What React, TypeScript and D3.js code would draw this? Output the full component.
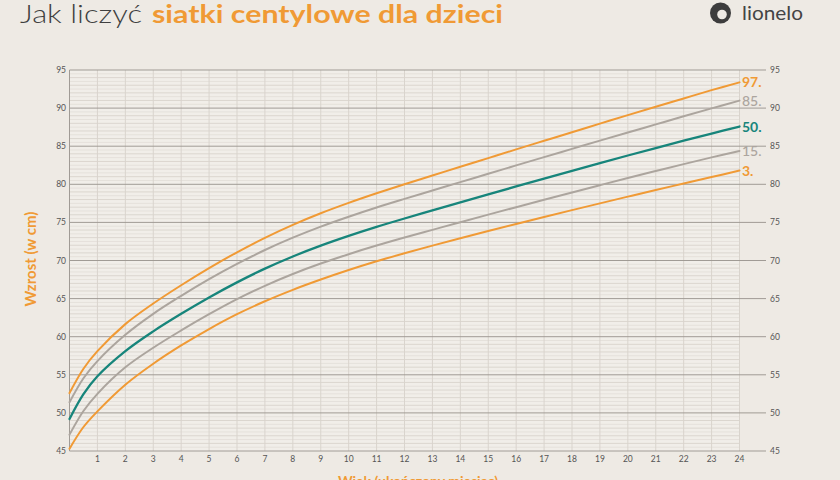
import React from "react";
import * as d3 from "d3";

const months = [0,0.5,1,2,3,4,5,6,7,8,9,10,11,12,13,14,15,16,17,18,19,20,21,22,23,24];
const p97 = [52.6,55.8,58.1,61.65,64.35,66.75,69.0,71.08,72.98,74.68,76.2,77.56,78.82,80.01,81.15,82.3,83.44,84.58,85.71,86.84,87.96,89.08,90.18,91.27,92.36,93.38];
const p85 = [51.4,54.55,56.8,60.25,63.0,65.36,67.55,69.55,71.38,73.0,74.45,75.75,76.96,78.09,79.19,80.29,81.38,82.48,83.57,84.65,85.73,86.8,87.86,88.92,89.96,90.98];
const p50 = [49.2,52.45,54.8,58.1,60.7,63.0,65.15,67.13,68.93,70.53,71.95,73.23,74.41,75.51,76.57,77.63,78.68,79.72,80.75,81.77,82.78,83.78,84.76,85.72,86.66,87.58];
const p15 = [47.15,50.25,52.5,55.98,58.55,60.82,62.95,64.93,66.68,68.23,69.6,70.83,71.96,73.01,74.02,75.03,76.02,77.0,77.97,78.93,79.88,80.82,81.74,82.65,83.53,84.38];
const p3 = [45.3,48.15,50.2,53.7,56.45,58.85,61.0,62.95,64.65,66.15,67.5,68.75,69.9,70.95,71.95,72.92,73.87,74.8,75.71,76.61,77.5,78.38,79.25,80.1,80.95,81.8];

const xTicks = [1,2,3,4,5,6,7,8,9,10,11,12,13,14,15,16,17,18,19,20,21,22,23,24];
const yTicks = [45,50,55,60,65,70,75,80,85,90,95];
const seriesNames = ["97.", "85.", "50.", "15.", "3."];

const ORANGE = "#f09a35";
const GRAY = "#aca59e";
const TEAL = "#17857b";

export default function App() {
  const W = 840, H = 480;
  const x = d3.scaleLinear().domain([0, 24]).range([69.5, 739.5]);
  const y = d3.scaleLinear().domain([45, 95]).range([451, 70]);
  const line = d3.line<number>().x((_, i) => x(months[i])).y(d => y(d)).curve(d3.curveCatmullRom.alpha(0.5));

  const series = [
    { name: seriesNames[0], data: p97, color: ORANGE, weight: 700, w: 2 },
    { name: seriesNames[1], data: p85, color: GRAY, weight: 500, w: 2 },
    { name: seriesNames[2], data: p50, color: TEAL, weight: 700, w: 2.3 },
    { name: seriesNames[3], data: p15, color: GRAY, weight: 500, w: 2 },
    { name: seriesNames[4], data: p3, color: ORANGE, weight: 700, w: 2 },
  ];

  const halfTicks = d3.range(45.5, 95, 0.5).filter(v => v % 5 !== 0);
  const font = "Lato, 'Open Sans', sans-serif";

  return (
    <svg width={W} height={H} style={{ position: "absolute", left: 0, top: 0, background: "#eeeae4" }} fontFamily={font}>
      <rect x={0} y={0} width={W} height={H} fill="#eeeae4" />
      <rect x={x(0)} y={y(95)} width={x(24) - x(0)} height={y(45) - y(95)} fill="#f1eee9" />
      {/* title */}
      <text x={20} y={23} fontSize={25} fontFamily="Lato, sans-serif">
        <tspan fill="#3f3f3f" fontWeight={300} textLength={122} lengthAdjust="spacingAndGlyphs">Jak liczyć</tspan>
        <tspan x={152} fill={ORANGE} fontWeight={700} textLength={351} lengthAdjust="spacingAndGlyphs">siatki centylowe dla dzieci</tspan>
      </text>
      {/* logo */}
      <circle cx={720.5} cy={13} r={10.5} fill="#3d3d3d" />
      <circle cx={722} cy={14.5} r={4.8} fill="#eeeae4" />
      <text x={742} y={20} fontSize={20} fontWeight={400} fill="#444" fontFamily="Lato, sans-serif" textLength={61} lengthAdjust="spacingAndGlyphs">lionelo</text>

      {/* minor grid */}
      {halfTicks.map(v => (
        <line key={"h" + v} x1={x(0)} x2={x(24)} y1={y(v)} y2={y(v)}
          stroke={Number.isInteger(v) ? "#dbd6cf" : "#e5e1db"} strokeWidth={1} />
      ))}
      {xTicks.map(m => (
        <line key={"v" + m} x1={x(m)} x2={x(m)} y1={y(95)} y2={y(45)} stroke="#d9d4cd" strokeWidth={1} />
      ))}
      {/* major grid */}
      {yTicks.map(v => (
        <line key={"M" + v} x1={x(0)} x2={766} y1={y(v)} y2={y(v)} stroke="#a09b95" strokeWidth={1} />
      ))}
      <line x1={x(0)} x2={x(0)} y1={y(95)} y2={y(45)} stroke="#a09b95" strokeWidth={1} />

      {/* tick labels */}
      {yTicks.map(v => (
        <text key={"yl" + v} x={66} y={y(v) + 3} fontSize={8.5} fill="#555" textAnchor="end">{v}</text>
      ))}
      {yTicks.map(v => (
        <text key={"yr" + v} x={770} y={y(v) + 3} fontSize={8.5} fill="#555">{v}</text>
      ))}
      {xTicks.map(m => (
        <text key={"xl" + m} x={x(m)} y={462} fontSize={8.5} fill="#555" textAnchor="middle">{m}</text>
      ))}

      {/* curves */}
      {series.map(s => (
        <path key={s.name} d={line(s.data) || ""} fill="none" stroke={s.color} strokeWidth={s.w} strokeLinecap="round" />
      ))}
      {series.map(s => (
        <text key={"l" + s.name} x={742} y={y(s.data[s.data.length - 1]) + 5} fontSize={14}
          fontWeight={s.weight} fill={s.color}>{s.name}</text>
      ))}

      {/* axis titles */}
      <text transform={`translate(36,259) rotate(-90)`} textAnchor="middle" fontSize={15} fontWeight={700} fill={ORANGE}>Wzrost (w cm)</text>
      <text x={418} y={486} textAnchor="middle" fontSize={14} fontWeight={700} fill={ORANGE}>Wiek (ukończony miesiąc)</text>
    </svg>
  );
}
